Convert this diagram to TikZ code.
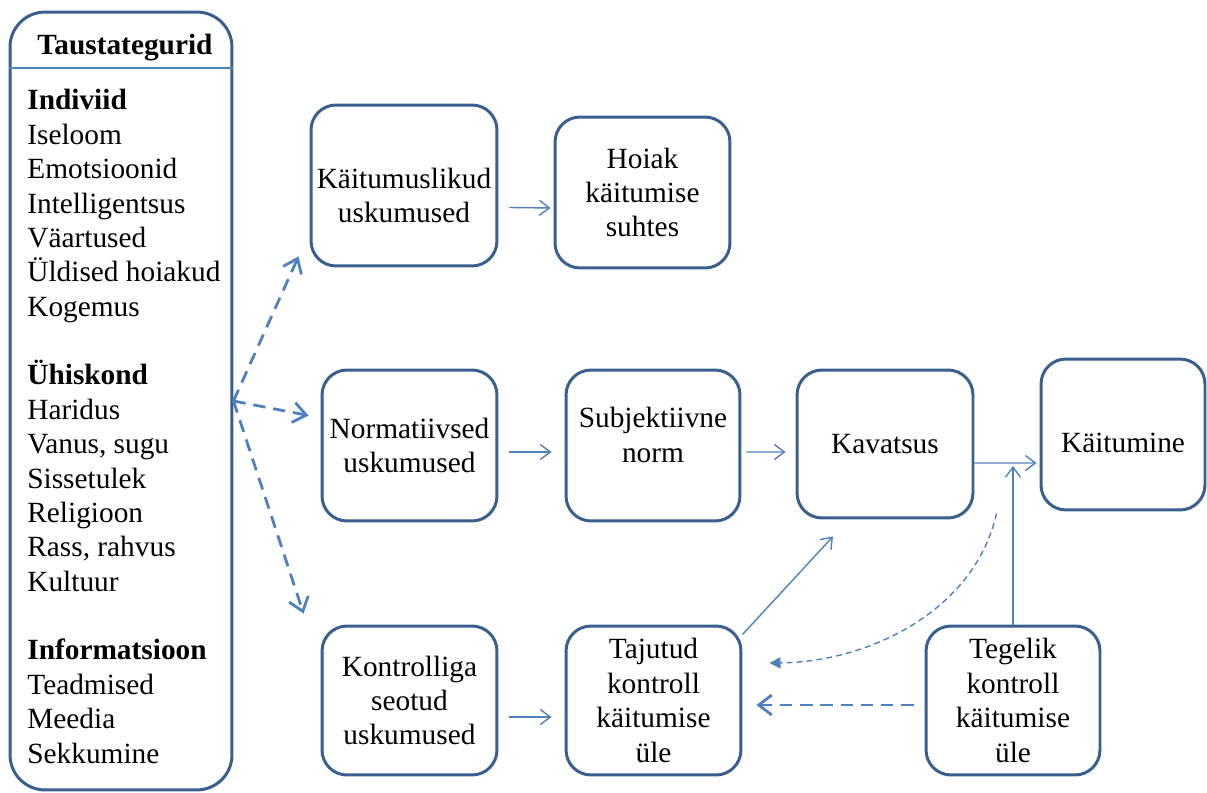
\documentclass[tikz,border=0pt]{standalone}
\usepackage{fontspec}
\setmainfont{Liberation Serif}
\usetikzlibrary{arrows.meta,calc}
\definecolor{boxblue}{HTML}{3A5F8F}
\definecolor{arrowblue}{HTML}{4F81BD}
\tikzset{
  box/.style={draw=boxblue, line width=1.7pt, rounded corners=0.5cm, align=center, inner sep=0pt},
  arr/.style={draw=arrowblue, line width=0.8pt, -{Straight Barb[length=0.2cm,width=0.3cm]}},
  dasharr/.style={draw=arrowblue, line width=1.6pt, dash pattern=on 7pt off 4.5pt, -{Straight Barb[length=0.26cm,width=0.4cm]}},
  dotarr/.style={draw=arrowblue, line width=0.8pt, dash pattern=on 3.4pt off 2.3pt, -{Triangle[length=0.22cm,width=0.22cm]}},
  txt/.style={font=\fontsize{16.7}{19.6}\selectfont}
}
\begin{document}
\begin{tikzpicture}[x=0.02cm,y=-0.02cm,txt]
\useasboundingbox (0,0) rectangle (1207,793);
% taustategurid
\node[box, rounded corners=0.7cm, minimum width=4.44cm, minimum height=15.56cm] (tf) at (121,401) {};
\draw[arrowblue, line width=0.8pt] (tf.west |- 0,68) -- (tf.east |- 0,68);
\node (tfh) at (125,48) {\textbf{Taustategurid}};
\foreach \t [count=\i] in {\textbf{Indiviid},Iseloom,Emotsioonid,Intelligentsus,V\"aartused,\"Uldised hoiakud,Kogemus,{},\textbf{\"Uhiskond},Haridus,{Vanus, sugu},Sissetulek,Religioon,{Rass, rahvus},Kultuur,{},\textbf{Informatsioon},Teadmised,Meedia,Sekkumine}
  \node[anchor=base west, inner sep=0pt] (f\i) at (27,{110+34.37*(\i-1)}) {\t};
% boxes
\node[box, minimum width=3.72cm, minimum height=3.22cm] (beh) at (404,185.5) {};
\node[align=center] (beht) at ([shift={(0,10)}]beh.center) {K\"aitumuslikud\\uskumused};
\node[box, minimum width=3.5cm, minimum height=3.02cm] (hoiak) at (642.5,192.5) {Hoiak\\k\"aitumise\\suhtes};
\node[box, minimum width=3.5cm, minimum height=3.02cm] (norm) at (409.5,445.5) {Normatiivsed\\uskumused};
\node[box, minimum width=3.48cm, minimum height=3.02cm] (subj) at (653,445.5) {};
\node[align=center] (subjt) at ([shift={(0,-10.5)}]subj.center) {Subjektiivne\\norm};
\node[box, minimum width=3.52cm, minimum height=2.96cm] (kav) at (885,444) {Kavatsus};
\node[box, minimum width=3.28cm, minimum height=3.02cm] (kait) at (1123,434.5) {};
\node (kaitt) at ([shift={(0,8)}]kait.center) {K\"aitumine};
\node[box, minimum width=3.5cm, minimum height=2.98cm] (kontr) at (409.5,700.5) {Kontrolliga\\seotud\\uskumused};
\node[box, minimum width=3.5cm, minimum height=2.98cm] (taj) at (653.5,700.5) {Tajutud\\kontroll\\k\"aitumise\\\"ule};
\node[box, minimum width=3.48cm, minimum height=2.98cm] (teg) at (1013,700.5) {Tegelik\\kontroll\\k\"aitumise\\\"ule};
% dashed arrows from taustategurid
\draw[dasharr] (tf.east) -- ([shift={(-11,-11)}]beh.south west);
\draw[dasharr] (tf.east) -- ([shift={(-12,-30)}]norm.west);
\draw[dasharr] (tf.east) -- ([shift={(-17,-11)}]kontr.north west);
% solid arrows
\draw[arr] ([shift={(11,22)}]beh.east) -- ([shift={(-3,15.5)}]hoiak.west);
\draw[arr] ([shift={(11,6.5)}]norm.east) -- ([shift={(-13,6.5)}]subj.west);
\draw[arr] ([shift={(5,6.5)}]subj.east) -- ([shift={(-10,8)}]kav.west);
\coordinate (kj) at ([shift={(0,19)}]kav.east);
\draw[arr] (kj) -- ([shift={(-3,28.5)}]kait.west);
\draw[arr] (teg.north) -- ([shift={(0,3)}]teg.north |- kj);
\draw[arr] ([shift={(11,16.5)}]kontr.east) -- ([shift={(-13,16.5)}]taj.west);
\draw[arr] ([shift={(0,10)}]taj.north east) -- ([shift={(-52,17)}]kav.south);
% feedback
\draw[dasharr] ([shift={(-11,4.5)}]teg.west) -- ([shift={(14,4.5)}]taj.east);
\draw[dotarr] ([shift={(22,-6)}]kav.south east) .. controls (975,610) and (870,662) .. ([shift={(27,-37.5)}]taj.east);
\end{tikzpicture}
\end{document}
